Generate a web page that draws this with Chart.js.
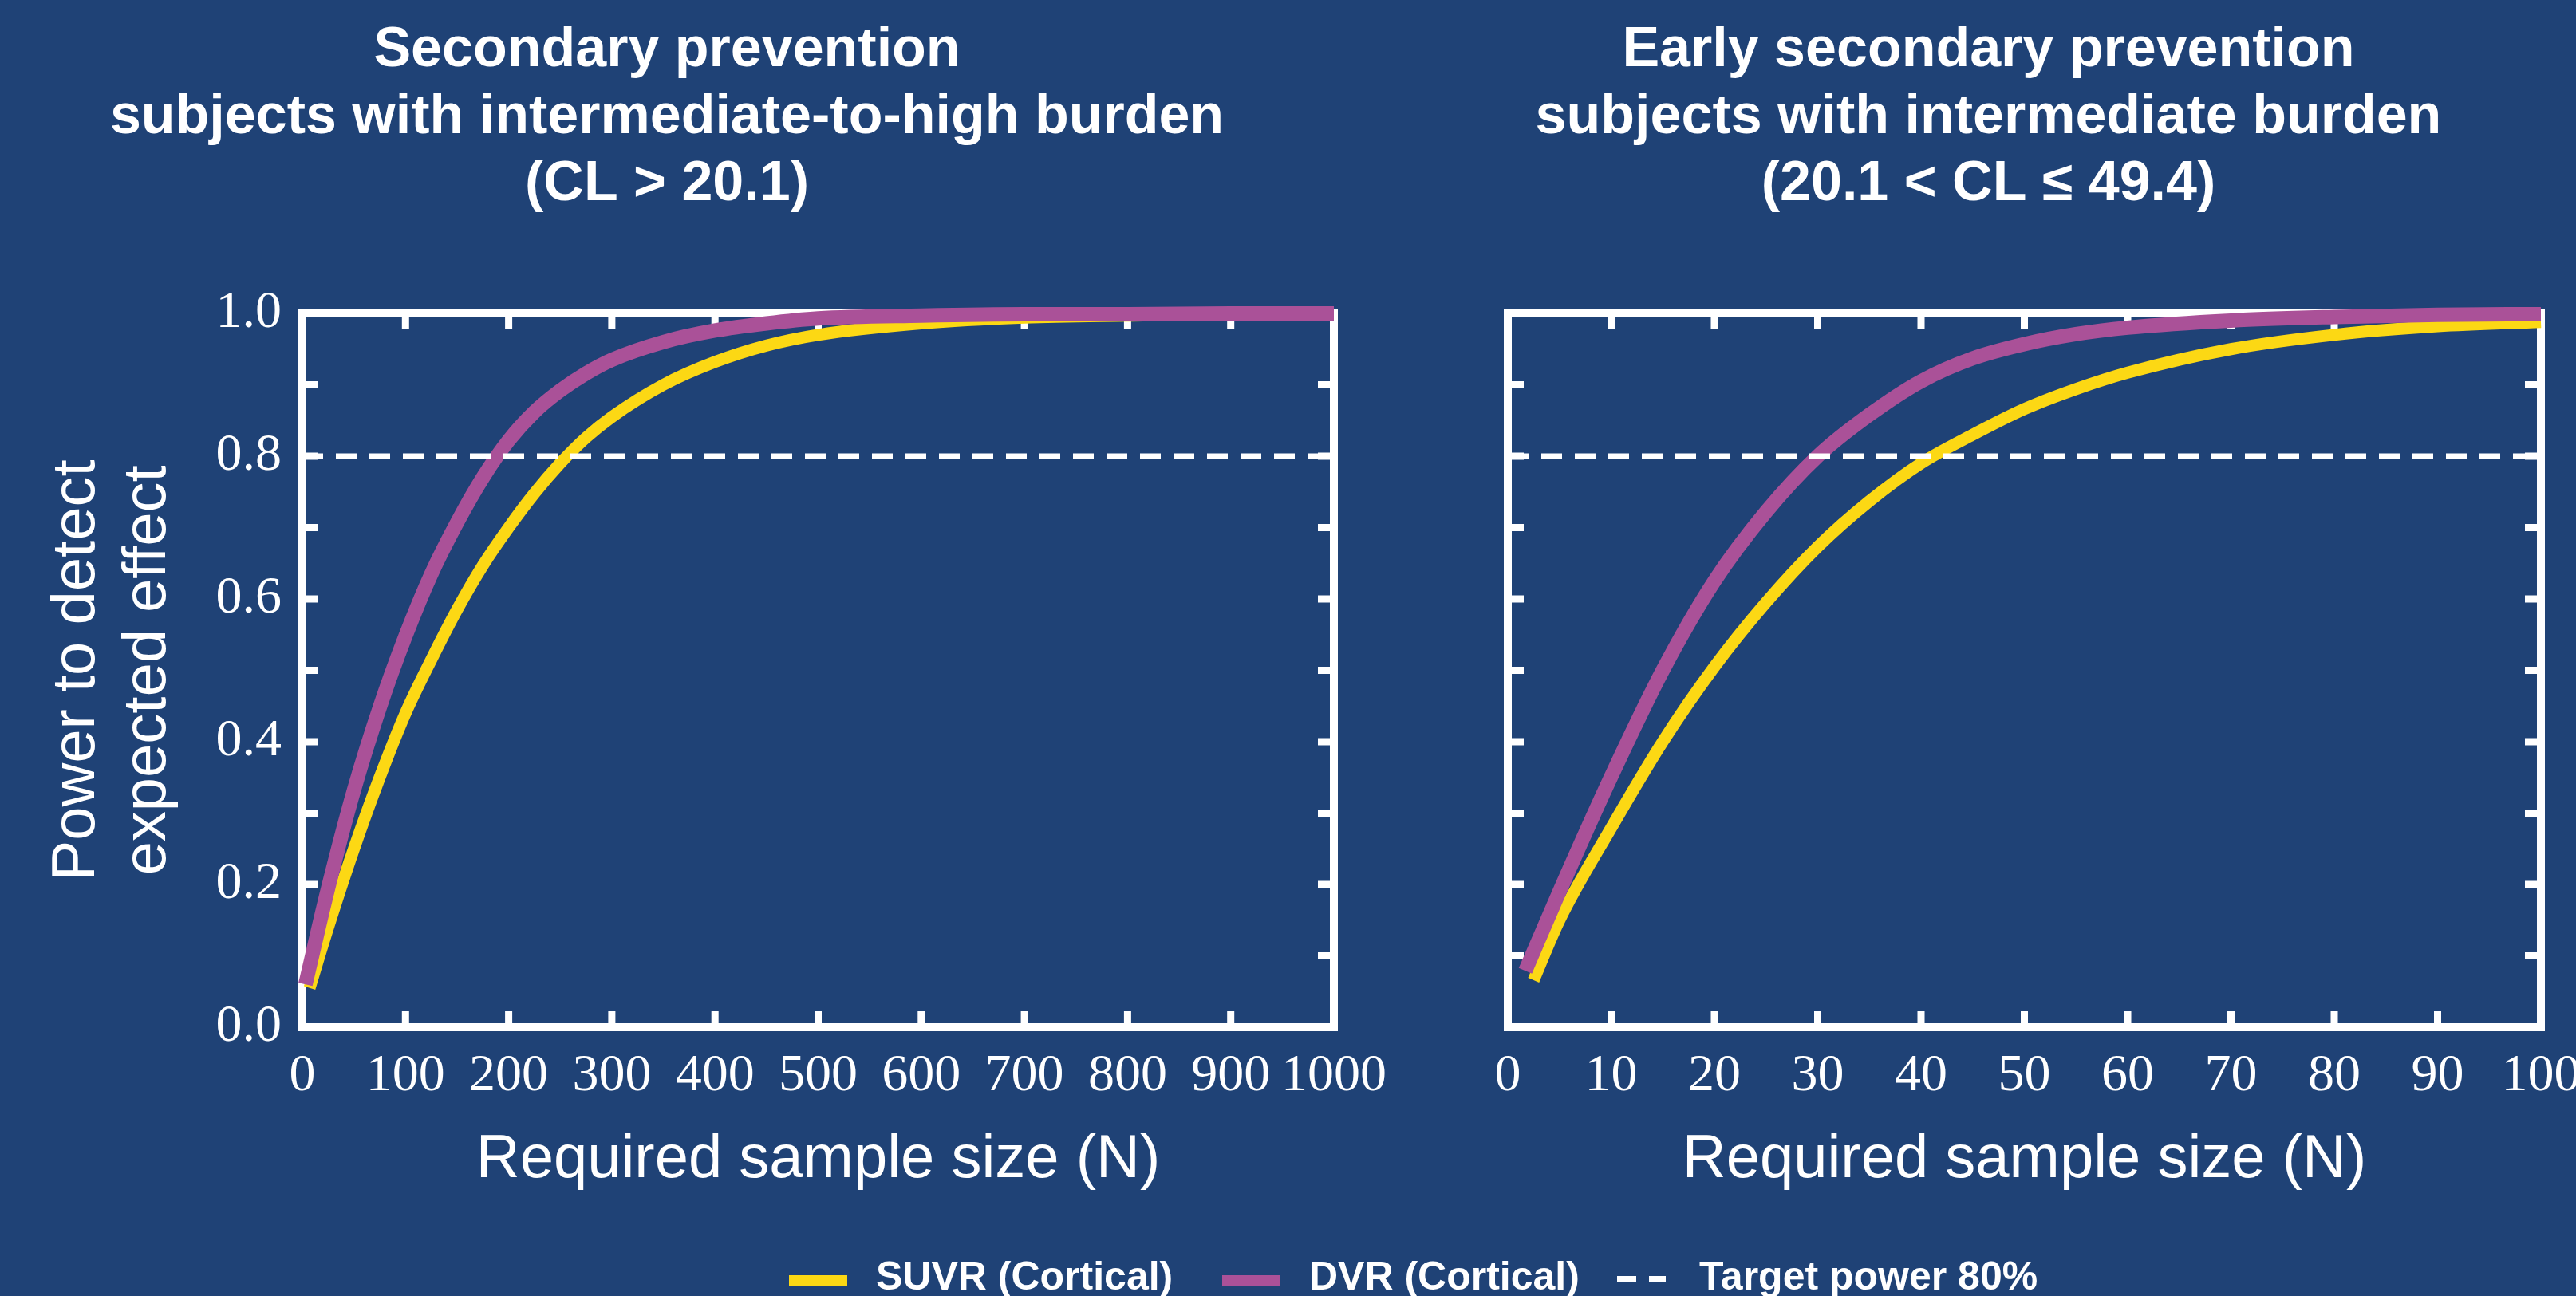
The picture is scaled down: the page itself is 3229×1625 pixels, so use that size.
<!DOCTYPE html>
<html>
<head>
<meta charset="utf-8">
<title>Power curves</title>
<script src="https://cdn.jsdelivr.net/npm/chart.js@4.4.1/dist/chart.umd.min.js"></script>
<style>
  html, body { margin: 0; padding: 0; width: 3229px; height: 1625px; overflow: hidden; background: #1f4276; }
  canvas { position: absolute; top: 0; }
  #chartLeft  { left: 0; }
  #chartRight { left: 1800px; }
  .legend-item {
    position: absolute; top: 1575px; display: flex; align-items: flex-start;
    font-family: 'Liberation Sans', Arial, sans-serif; font-weight: bold;
    font-size: 50px; line-height: 50px; color: #fff; white-space: nowrap;
  }
  .legend-swatch { width: 73px; height: 14px; margin-top: 24px; margin-right: 36px; }
  .legend-dash {
    width: 61px; height: 7px; margin-top: 25px; margin-right: 42px;
    background: repeating-linear-gradient(to right, #fff 0 24px, transparent 24px 40px);
  }
</style>
</head>
<body>
<canvas id="chartLeft" width="2051" height="1540"></canvas>
<canvas id="chartRight" width="1475" height="1540"></canvas>
<div id="legend"></div>

<script>
/* ===== Data ===== */
const LEFT_TITLE  = ['Secondary prevention', 'subjects with intermediate-to-high burden', '(CL > 20.1)'];
const RIGHT_TITLE = ['Early secondary prevention', 'subjects with intermediate burden', '(20.1 < CL \u2264 49.4)'];
const X_TITLE = 'Required sample size (N)';
const Y_TITLE = ['Power to detect', 'expected effect'];

const SERIES_LABELS = ['SUVR (Cortical)', 'DVR (Cortical)', 'Target power 80%'];
const TARGET_POWER = 0.8;

// Left panel: CL > 20.1, N from 0 to 1000
const LEFT_X_MAX  = 1000;
const LEFT_X_STEP = 100;
const LEFT_SUVR_N = [7, 25, 50, 75, 100, 125, 150, 175, 200, 225, 250, 275, 300, 350, 400, 450, 500, 600, 700, 800, 900, 1000];
const LEFT_SUVR_P = [0.055, 0.14, 0.25, 0.35, 0.44, 0.515, 0.585, 0.647, 0.70, 0.748, 0.79, 0.826, 0.855, 0.90, 0.932, 0.955, 0.97, 0.986, 0.994, 0.997, 0.999, 0.999];
const LEFT_DVR_N  = [3, 25, 50, 75, 100, 125, 150, 175, 200, 225, 250, 275, 300, 350, 400, 450, 500, 600, 700, 800, 900, 1000];
const LEFT_DVR_P  = [0.06, 0.195, 0.332, 0.448, 0.548, 0.635, 0.707, 0.77, 0.822, 0.862, 0.892, 0.916, 0.935, 0.96, 0.976, 0.986, 0.993, 0.997, 0.999, 0.999, 1.0, 1.0];

// Right panel: 20.1 < CL <= 49.4, N from 0 to 100
const RIGHT_X_MAX  = 100;
const RIGHT_X_STEP = 10;
const RIGHT_SUVR_N = [2.5, 5, 10, 15, 20, 25, 30, 35, 40, 45, 50, 55, 60, 70, 80, 90, 100];
const RIGHT_SUVR_P = [0.066, 0.15, 0.279, 0.40, 0.505, 0.595, 0.673, 0.737, 0.79, 0.83, 0.866, 0.894, 0.917, 0.95, 0.97, 0.982, 0.988];
const RIGHT_DVR_N  = [1.7, 5, 10, 15, 20, 25, 30, 35, 40, 45, 50, 55, 60, 70, 80, 90, 100];
const RIGHT_DVR_P  = [0.079, 0.19, 0.351, 0.50, 0.625, 0.722, 0.80, 0.858, 0.905, 0.937, 0.957, 0.971, 0.98, 0.99, 0.995, 0.998, 0.999];

const Y_MAX  = 1;
const Y_STEP = 0.1;

/* ===== Styles ===== */
const SUVR_COLOR = '#fcd814';
const DVR_COLOR  = '#aa5198';
const WHITE      = '#ffffff';
const SANS  = "'Liberation Sans', Arial, sans-serif";
const SERIF = "'Liberation Serif', 'Times New Roman', serif";

const toPoints = (xs, ys) => xs.map((x, i) => ({ x, y: ys[i] }));

/* ===== Frame + inward ticks ===== */
const frameTicks = {
  id: 'frameTicks',
  beforeDatasetsDraw(chart) {
    const { ctx, chartArea: a, scales: { x, y } } = chart;
    const len = 20;
    ctx.save();
    ctx.strokeStyle = WHITE;
    ctx.lineWidth = 9;
    ctx.beginPath();
    x.ticks.forEach(t => {
      if (t.value <= x.min + 1e-9 || t.value >= x.max - 1e-9) {return;}
      const px = x.getPixelForValue(t.value);
      ctx.moveTo(px, a.bottom); ctx.lineTo(px, a.bottom - len);
      ctx.moveTo(px, a.top);    ctx.lineTo(px, a.top + len);
    });
    y.ticks.forEach(t => {
      if (t.value <= y.min + 1e-9 || t.value >= y.max - 1e-9) {return;}
      const py = y.getPixelForValue(t.value);
      ctx.moveTo(a.left, py);  ctx.lineTo(a.left + len, py);
      ctx.moveTo(a.right, py); ctx.lineTo(a.right - len, py);
    });
    ctx.stroke();
    ctx.lineWidth = 10;
    ctx.strokeRect(a.left, a.top, a.right - a.left, a.bottom - a.top);
    ctx.restore();
  }
};

function buildChart(canvasId, cfg) {
  return new Chart(document.getElementById(canvasId), {
    type: 'line',
    data: {
      datasets: [
        { label: SERIES_LABELS[0], data: toPoints(cfg.suvrN, cfg.suvrP), borderColor: SUVR_COLOR, borderWidth: 15, order: 2 },
        { label: SERIES_LABELS[1], data: toPoints(cfg.dvrN, cfg.dvrP),   borderColor: DVR_COLOR,  borderWidth: 18, order: 1 },
        { label: SERIES_LABELS[2], data: [{ x: 0, y: TARGET_POWER }, { x: cfg.xMax, y: TARGET_POWER }],
          borderColor: WHITE, borderWidth: 7, borderDash: [26, 16], order: 0 },
      ],
    },
    options: {
      responsive: false,
      animation: false,
      events: [],
      layout: { padding: { left: 0, right: cfg.padRight, top: 0, bottom: 0 } },
      elements: {
        point: { radius: 0 },
        line: { cubicInterpolationMode: 'monotone', borderCapStyle: 'butt', fill: false },
      },
      datasets: { line: { clip: false } },
      plugins: {
        legend: { display: false },
        tooltip: { enabled: false },
        title: {
          display: true,
          text: cfg.title,
          color: WHITE,
          font: { family: SANS, size: 70, weight: 'bold', lineHeight: 1.2 },
          padding: { top: 22, bottom: 119 },
        },
      },
      scales: {
        x: {
          type: 'linear',
          min: 0, max: cfg.xMax,
          grid: { display: false, drawTicks: false },
          border: { display: false },
          ticks: {
            stepSize: cfg.xStep, autoSkip: false, maxRotation: 0, padding: 22,
            color: WHITE, font: { family: SERIF, size: 66 },
            callback: v => String(v),
          },
          title: {
            display: true, text: X_TITLE, color: WHITE,
            font: { family: SANS, size: 76, lineHeight: 1.18 },
            padding: { top: 0, bottom: 40 },
          },
          afterFit(scale) { scale.height = 252; },
        },
        y: {
          min: 0, max: Y_MAX,
          grid: { display: false, drawTicks: false },
          border: { display: false },
          ticks: {
            stepSize: Y_STEP, autoSkip: false, padding: 26,
            color: WHITE, font: { family: SERIF, size: 66 },
            callback: v => (cfg.yLabels && Math.round(v * 10) % 2 === 0) ? v.toFixed(1) : '',
          },
          title: {
            display: cfg.yLabels, text: Y_TITLE, color: WHITE,
            font: { family: SANS, size: 76, lineHeight: 1.18 },
            padding: { top: 52, bottom: 0 },
          },
          afterFit(scale) { scale.width = cfg.yWidth; },
        },
      },
    },
    plugins: [frameTicks],
  });
}

buildChart('chartLeft', {
  title: LEFT_TITLE, xMax: LEFT_X_MAX, xStep: LEFT_X_STEP,
  suvrN: LEFT_SUVR_N, suvrP: LEFT_SUVR_P, dvrN: LEFT_DVR_N, dvrP: LEFT_DVR_P,
  yLabels: true, yWidth: 379, padRight: 379,
});

buildChart('chartRight', {
  title: RIGHT_TITLE, xMax: RIGHT_X_MAX, xStep: RIGHT_X_STEP,
  suvrN: RIGHT_SUVR_N, suvrP: RIGHT_SUVR_P, dvrN: RIGHT_DVR_N, dvrP: RIGHT_DVR_P,
  yLabels: false, yWidth: 90, padRight: 90,
});

/* ===== Shared legend (spans both panels) ===== */
const LEGEND_ITEMS = [
  { label: SERIES_LABELS[0], color: SUVR_COLOR, left: 989 },
  { label: SERIES_LABELS[1], color: DVR_COLOR,  left: 1532 },
  { label: SERIES_LABELS[2], dashed: true,      left: 2027 },
];
const legendEl = document.getElementById('legend');
LEGEND_ITEMS.forEach(item => {
  const wrap = document.createElement('div');
  wrap.className = 'legend-item';
  wrap.style.left = item.left + 'px';
  const sw = document.createElement('div');
  if (item.dashed) {
    sw.className = 'legend-dash';
  } else {
    sw.className = 'legend-swatch';
    sw.style.background = item.color;
  }
  const txt = document.createElement('span');
  txt.textContent = item.label;
  wrap.appendChild(sw);
  wrap.appendChild(txt);
  legendEl.appendChild(wrap);
});
</script>
</body>
</html>
